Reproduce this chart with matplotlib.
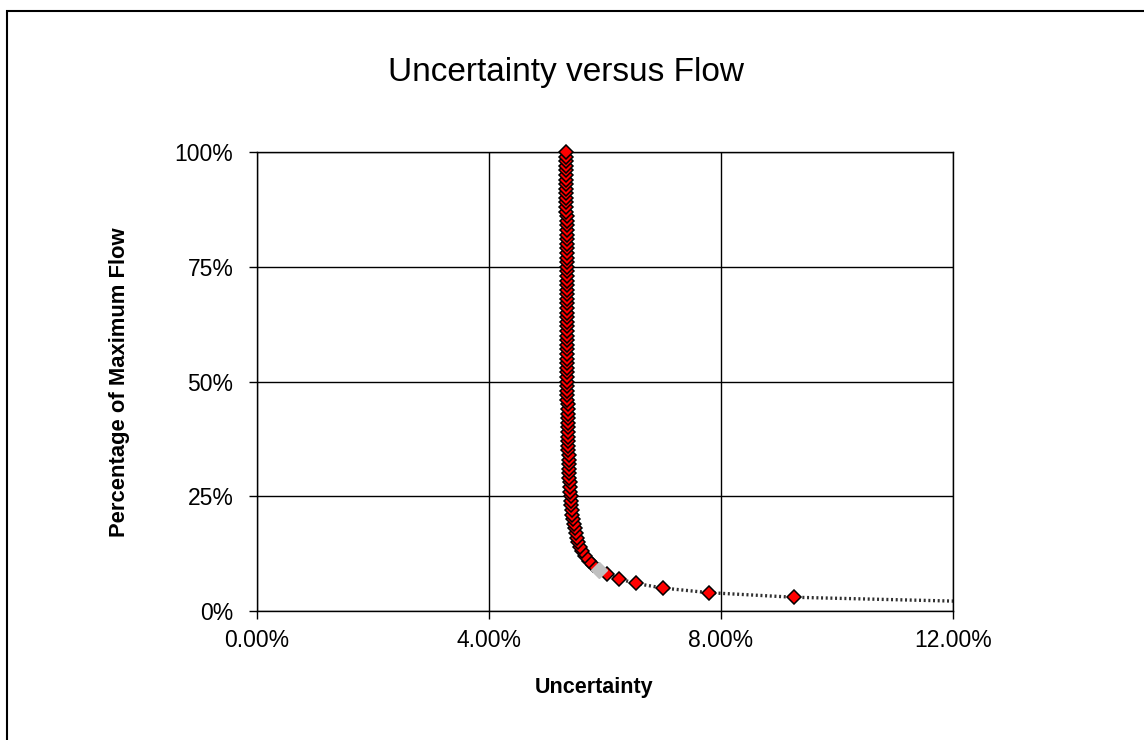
import matplotlib
matplotlib.use('Agg')
import matplotlib.pyplot as plt
from matplotlib.patches import Rectangle
from matplotlib.ticker import PercentFormatter, MultipleLocator

plt.rcParams['font.family'] = ['Liberation Sans', 'DejaVu Sans']

# percentage of maximum flow (1% .. 100%)
flow = list(range(1, 101))
# uncertainty (%) for each flow step
uncertainty = [
    23.32, 12.54, 9.256, 7.786, 7.002, 6.536, 6.239, 6.038, 5.897, 5.793,
    5.716, 5.656, 5.609, 5.571, 5.541, 5.516, 5.495, 5.477, 5.462, 5.450,
    5.439, 5.429, 5.421, 5.414, 5.407, 5.401, 5.396, 5.392, 5.387, 5.384,
    5.380, 5.377, 5.374, 5.372, 5.369, 5.367, 5.365, 5.363, 5.362, 5.360,
    5.359, 5.357, 5.356, 5.355, 5.354, 5.353, 5.352, 5.351, 5.350, 5.349,
    5.349, 5.348, 5.347, 5.347, 5.346, 5.345, 5.345, 5.344, 5.344, 5.343,
    5.343, 5.343, 5.342, 5.342, 5.341, 5.341, 5.341, 5.340, 5.340, 5.340,
    5.340, 5.339, 5.339, 5.339, 5.339, 5.338, 5.338, 5.338, 5.338, 5.338,
    5.337, 5.337, 5.337, 5.337, 5.337, 5.337, 5.336, 5.336, 5.336, 5.336,
    5.336, 5.336, 5.336, 5.335, 5.335, 5.335, 5.335, 5.335, 5.335, 5.335,
]
# the point shown greyed out in the chart
highlight_flow = 9

fig = plt.figure(figsize=(11.44, 7.4), dpi=100)
ax = fig.add_axes([0.2247, 0.1743, 0.6083, 0.6203])

ax.plot(uncertainty, flow, color='#303030', lw=2.4, ls=(0, (0.6, 0.8)), zorder=2)
markers, = ax.plot(uncertainty, flow, ls='none', marker='D', ms=7.6,
                   mfc='#ff0000', mec='black', mew=1.1, zorder=3)
# clip sideways only, so the 100% marker is not cut at the top
markers.set_clip_path(Rectangle((0, -0.05), 1, 1.1, transform=ax.transAxes))
i = flow.index(highlight_flow)
ax.plot([uncertainty[i]], [flow[i]], ls='none', marker='D', ms=8.2,
        mfc='#c0c0c0', mec='#c0c0c0', mew=1.0, zorder=4)

ax.set_xlim(0, 12)
ax.set_ylim(0, 100)
ax.xaxis.set_major_locator(MultipleLocator(4))
ax.yaxis.set_major_locator(MultipleLocator(25))
ax.xaxis.set_major_formatter(PercentFormatter(decimals=2))
ax.yaxis.set_major_formatter(PercentFormatter(decimals=0))
ax.grid(True, color='black', lw=1)
ax.set_axisbelow(True)
for s in ax.spines.values():
    s.set_color('black')
    s.set_linewidth(1)
ax.tick_params(direction='out', length=6, width=1, color='black',
               labelsize=16.5, pad=7)
ax.tick_params(axis='y', pad=11)

fig.suptitle('Uncertainty versus Flow', x=0.495, y=1 - 73 / 740, va='center',
             fontsize=24)
fig.text(594 / 1144, 1 - 688 / 740, 'Uncertainty', ha='center', va='center',
         fontsize=15.5, fontweight='bold')
fig.text(120 / 1144, (1 - 382 / 740), 'Percentage of Maximum Flow', rotation=90,
         ha='center', va='center', fontsize=15.8, fontweight='bold')

fig.patches.append(Rectangle((7 / 1144, -0.1), 2, 1.1 - 11 / 740, fill=False,
                             lw=1.5, edgecolor='black', transform=fig.transFigure))

fig.savefig('out.png', dpi=100)
plt.close(fig)
